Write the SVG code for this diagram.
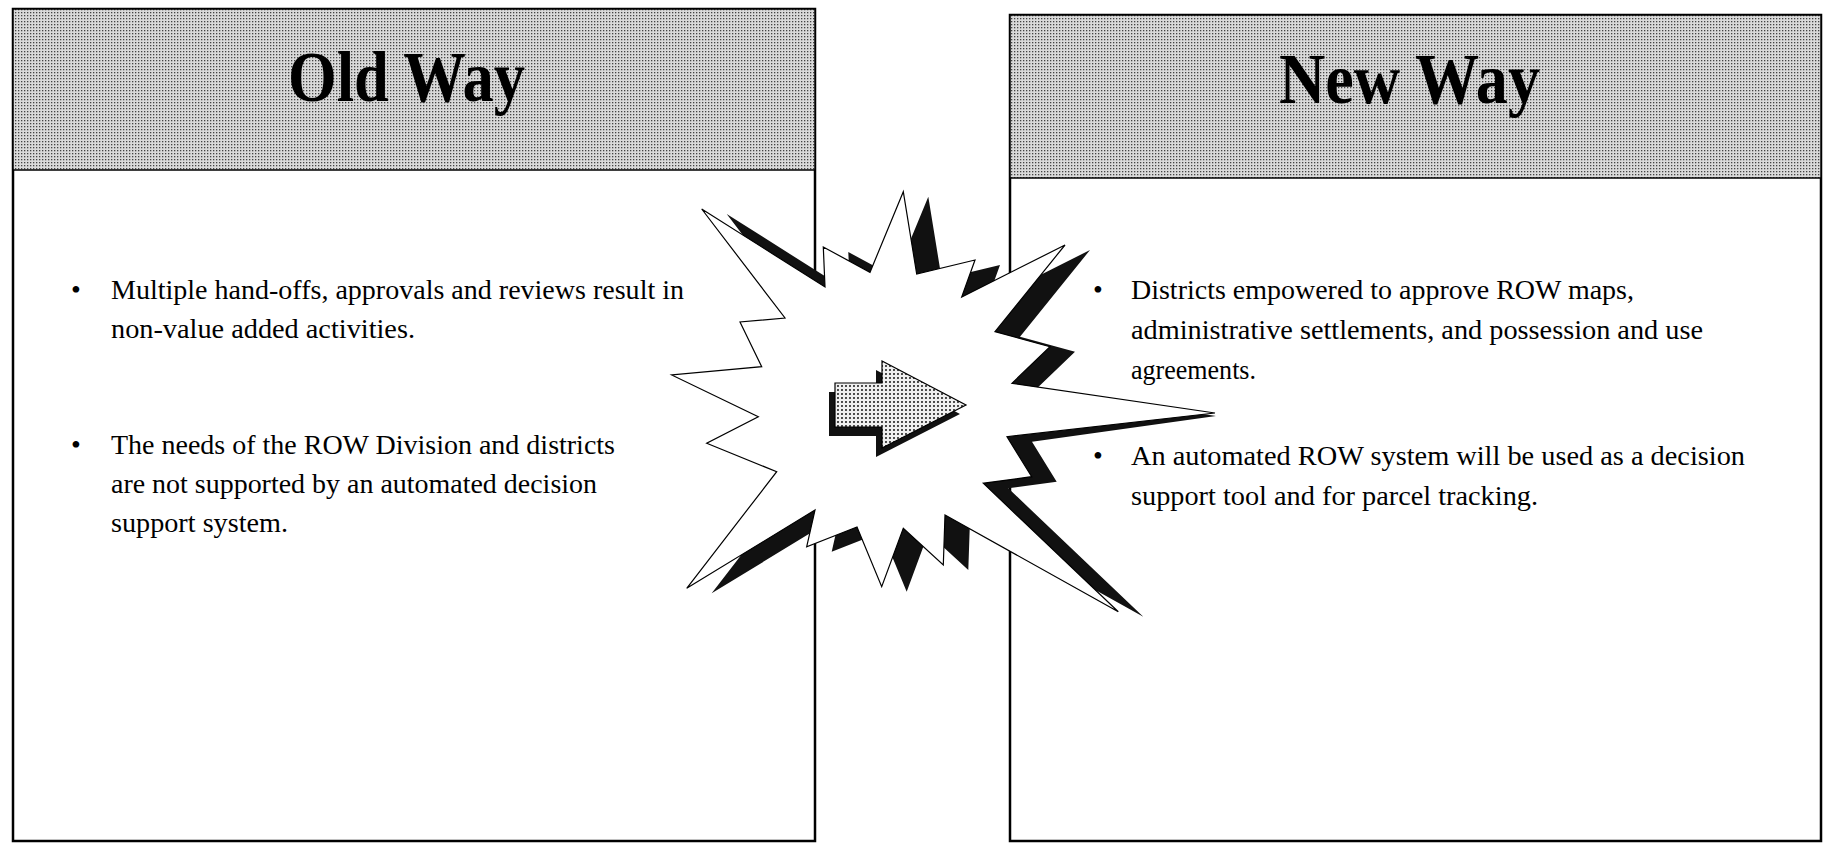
<svg xmlns="http://www.w3.org/2000/svg" width="1827" height="845" viewBox="0 0 1827 845">
<defs>
<pattern id="hdr" width="3" height="3" patternUnits="userSpaceOnUse"><rect width="3" height="3" fill="#dadada"/><rect width="1.3" height="1.3" fill="#444"/></pattern>
<pattern id="arr" width="4" height="4" patternUnits="userSpaceOnUse"><rect width="4" height="4" fill="#f0f0f0"/><circle cx="2" cy="2" r="1.05" fill="#222"/></pattern>
<style>
.box{fill:#fff;stroke:#000;stroke-width:2.5}
.head{fill:url(#hdr);stroke:#000;stroke-width:1.5}
.title{font-family:"Liberation Serif","Times New Roman",serif;font-weight:bold;font-size:72px;fill:#000}
.body{font-family:"Liberation Serif","Times New Roman",serif;font-size:28px;fill:#000}
.shadow{fill:#111}
.star{fill:#fff;stroke:#000;stroke-width:1.2;stroke-linejoin:miter}
.arrow{fill:url(#arr);stroke:#000;stroke-width:1.2}
</style>
</defs>
<rect width="1827" height="845" fill="#fff"/>

<g id="old-way">
<rect class="box" x="13" y="9" width="802" height="832"/>
<rect class="head" x="13" y="9" width="802" height="161"/>
<text class="title" x="288" y="101" textLength="237" lengthAdjust="spacingAndGlyphs">Old Way</text>
<text class="body" x="71" y="299">•</text>
<text class="body" x="111" y="299" textLength="573" lengthAdjust="spacingAndGlyphs">Multiple hand-offs, approvals and reviews result in</text>
<text class="body" x="111" y="338" textLength="304" lengthAdjust="spacingAndGlyphs">non-value added activities.</text>
<text class="body" x="71" y="454">•</text>
<text class="body" x="111" y="454" textLength="504" lengthAdjust="spacingAndGlyphs">The needs of the ROW Division and districts</text>
<text class="body" x="111" y="493" textLength="486" lengthAdjust="spacingAndGlyphs">are not supported by an automated decision</text>
<text class="body" x="111" y="532" textLength="177" lengthAdjust="spacingAndGlyphs">support system.</text>
</g>

<g id="new-way">
<rect class="box" x="1010" y="15" width="811" height="826"/>
<rect class="head" x="1010" y="15" width="811" height="163"/>
<text class="title" x="1279" y="103" textLength="261" lengthAdjust="spacingAndGlyphs">New Way</text>
<text class="body" x="1093" y="299">•</text>
<text class="body" x="1131" y="299" textLength="503" lengthAdjust="spacingAndGlyphs">Districts empowered to approve ROW maps,</text>
<text class="body" x="1131" y="339" textLength="572" lengthAdjust="spacingAndGlyphs">administrative settlements, and possession and use</text>
<text class="body" x="1131" y="379" textLength="125" lengthAdjust="spacingAndGlyphs">agreements.</text>
<text class="body" x="1093" y="465">•</text>
<text class="body" x="1131" y="465" textLength="614" lengthAdjust="spacingAndGlyphs">An automated ROW system will be used as a decision</text>
<text class="body" x="1131" y="505" textLength="407" lengthAdjust="spacingAndGlyphs">support tool and for parcel tracking.</text>
</g>

<g id="burst">
<polygon class="shadow" points="726.7,214 850,292 848.3,252 895,277.3 928.3,196.7 941.7,279 1000,265 986.7,302 1090,250 1020,336.7 1075,351.7 1037,388.3 1216,416 1032,441.7 1056.7,481.7 1008.3,488.3 1143.3,616.7 970,520 968.3,570 928.3,533.3 906.7,591.7 882,532 831.7,551.7 840,515 711.7,593.3 801.7,476.7 731.7,448.3 783.3,421.7 696.7,380 786.7,371.7 765,327 810,323"/>
<polygon class="star" points="701.7,209 825,287 823.3,247 870,272.3 903.3,191.7 916.7,274 975,260 961.7,297 1065,245 995,331.7 1050,346.7 1012,383.3 1215,413 1007,436.7 1031.7,476.7 983.3,483.3 1118.3,611.7 945,515 943.3,565 903.3,528.3 881.7,586.7 857,527 806.7,546.7 815,510 686.7,588.3 776.7,471.7 706.7,443.3 758.3,416.7 671.7,375 761.7,366.7 740,322 785,318"/>
</g>

<g id="arrow">
<polygon class="shadow" transform="translate(-6,9)" points="835,383 882,383 882,361 966,405 882,448 882,427 835,427"/>
<polygon class="arrow" points="835,383 882,383 882,361 966,405 882,448 882,427 835,427"/>
</g>

<g id="connectors"></g>
</svg>
